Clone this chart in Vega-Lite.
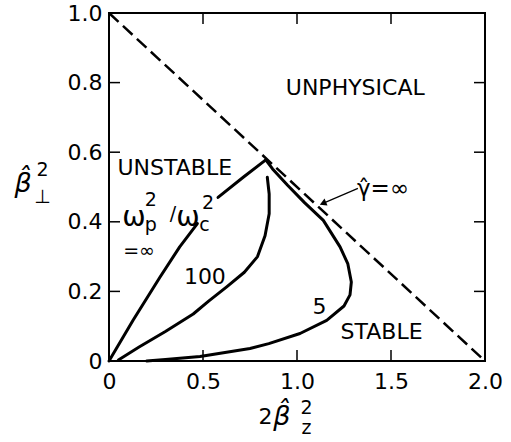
{
  "$schema": "https://vega.github.io/schema/vega-lite/v6.json",
  "width": 376,
  "height": 348,
  "autosize": "none",
  "padding": {"left": 109, "top": 13, "right": 26, "bottom": 81},
  "background": "white",
  "config": {
    "font": "DejaVu Sans",
    "view": {"stroke": "black", "strokeWidth": 2},
    "axis": {
      "grid": false,
      "domain": false,
      "ticks": false,
      "title": null,
      "labelFont": "DejaVu Sans",
      "labelFontSize": 22,
      "labelColor": "black",
      "labelFlush": false
    },
    "text": {"font": "DejaVu Sans", "color": "black"}
  },
  "datasets": {
    "boundary": [
      {"x": 0, "y": 1},
      {"x": 2, "y": 0}
    ],
    "xticks": [
      {"x": 0.5, "y": 0}, {"x": 1.0, "y": 0}, {"x": 1.5, "y": 0},
      {"x": 0.5, "y": 1}, {"x": 1.0, "y": 1}, {"x": 1.5, "y": 1}
    ],
    "yticks": [
      {"x": 0, "y": 0.2}, {"x": 0, "y": 0.4}, {"x": 0, "y": 0.6}, {"x": 0, "y": 0.8},
      {"x": 2, "y": 0.2}, {"x": 2, "y": 0.4}, {"x": 2, "y": 0.6}, {"x": 2, "y": 0.8}
    ],
    "curves": [
      {"curve": "inf_a", "ord": 0, "x": 0.0, "y": 0.0},
      {"curve": "inf_a", "ord": 1, "x": 0.128, "y": 0.117},
      {"curve": "inf_a", "ord": 2, "x": 0.27, "y": 0.24},
      {"curve": "inf_a", "ord": 3, "x": 0.376, "y": 0.328},
      {"curve": "inf_a", "ord": 4, "x": 0.47, "y": 0.395},
      {"curve": "inf_b", "ord": 0, "x": 0.58, "y": 0.47},
      {"curve": "inf_b", "ord": 1, "x": 0.714, "y": 0.528},
      {"curve": "inf_b", "ord": 2, "x": 0.834, "y": 0.578},
      {"curve": "5", "ord": 0, "x": 0.834, "y": 0.578},
      {"curve": "5", "ord": 1, "x": 0.87, "y": 0.552},
      {"curve": "5", "ord": 2, "x": 0.95, "y": 0.505},
      {"curve": "5", "ord": 3, "x": 1.04, "y": 0.455},
      {"curve": "5", "ord": 4, "x": 1.14, "y": 0.404},
      {"curve": "5", "ord": 5, "x": 1.229, "y": 0.328},
      {"curve": "5", "ord": 6, "x": 1.27, "y": 0.28},
      {"curve": "5", "ord": 7, "x": 1.289, "y": 0.227},
      {"curve": "5", "ord": 8, "x": 1.282, "y": 0.19},
      {"curve": "5", "ord": 9, "x": 1.25, "y": 0.158},
      {"curve": "5", "ord": 10, "x": 1.158, "y": 0.117},
      {"curve": "5", "ord": 11, "x": 1.016, "y": 0.079},
      {"curve": "5", "ord": 12, "x": 0.85, "y": 0.05},
      {"curve": "5", "ord": 13, "x": 0.75, "y": 0.036},
      {"curve": "5", "ord": 14, "x": 0.484, "y": 0.013},
      {"curve": "5", "ord": 15, "x": 0.3, "y": 0.004},
      {"curve": "5", "ord": 16, "x": 0.2, "y": 0.0},
      {"curve": "100", "ord": 0, "x": 0.842, "y": 0.528},
      {"curve": "100", "ord": 1, "x": 0.852, "y": 0.48},
      {"curve": "100", "ord": 2, "x": 0.852, "y": 0.423},
      {"curve": "100", "ord": 3, "x": 0.83, "y": 0.36},
      {"curve": "100", "ord": 4, "x": 0.79, "y": 0.3},
      {"curve": "100", "ord": 5, "x": 0.72, "y": 0.255},
      {"curve": "100", "ord": 6, "x": 0.626, "y": 0.213},
      {"curve": "100", "ord": 7, "x": 0.53, "y": 0.172},
      {"curve": "100", "ord": 8, "x": 0.448, "y": 0.135},
      {"curve": "100", "ord": 9, "x": 0.3, "y": 0.085},
      {"curve": "100", "ord": 10, "x": 0.16, "y": 0.04},
      {"curve": "100", "ord": 11, "x": 0.05, "y": 0.003}
    ],
    "notes": [
      {"kind": "main", "x": 1.31, "y": 0.785, "text": "UNPHYSICAL"},
      {"kind": "main", "x": 0.35, "y": 0.556, "text": "UNSTABLE"},
      {"kind": "main", "x": 1.45, "y": 0.083, "text": "STABLE"},
      {"kind": "main", "x": 0.51, "y": 0.24, "text": "100"},
      {"kind": "main", "x": 1.12, "y": 0.155, "text": "5"},
      {"kind": "main", "x": 0.832, "y": -0.162, "text": "2"},
      {"kind": "greek", "x": -0.457, "y": 0.51, "text": "β̂"},
      {"kind": "greek", "x": 0.92, "y": -0.162, "text": "β̂"},
      {"kind": "omega", "x": 0.133, "y": 0.41, "text": "ω"},
      {"kind": "omega", "x": 0.42, "y": 0.41, "text": "ω"},
      {"kind": "small", "x": -0.354, "y": 0.55, "text": "2"},
      {"kind": "small", "x": -0.354, "y": 0.47, "text": "⊥"},
      {"kind": "small", "x": 1.051, "y": -0.135, "text": "2"},
      {"kind": "small", "x": 1.051, "y": -0.192, "text": "z"},
      {"kind": "small", "x": 0.222, "y": 0.463, "text": "2"},
      {"kind": "small", "x": 0.222, "y": 0.39, "text": "p"},
      {"kind": "small", "x": 0.34, "y": 0.422, "text": "/"},
      {"kind": "small", "x": 0.527, "y": 0.455, "text": "2"},
      {"kind": "small", "x": 0.508, "y": 0.39, "text": "c"},
      {"kind": "small", "x": 0.16, "y": 0.317, "text": "=∞"},
      {"kind": "gamma", "x": 1.319, "y": 0.493, "text": "γ̂=∞"}
    ],
    "arrow": [
      {"x": 1.324, "y": 0.496, "x2": 1.138, "y2": 0.453}
    ]
  },
  "layer": [
    {
      "data": {"name": "boundary"},
      "mark": {"type": "line", "color": "black", "strokeWidth": 2.5, "strokeDash": [13, 6]},
      "encoding": {
        "x": {
          "field": "x", "type": "quantitative",
          "scale": {"domain": [0, 2], "nice": false, "zero": false},
          "axis": {
            "orient": "bottom",
            "values": [0, 0.5, 1, 1.5, 2],
            "labelExpr": "datum.value == 0 ? '0' : format(datum.value, '.1f')",
            "labelPadding": 10
          }
        },
        "y": {
          "field": "y", "type": "quantitative",
          "scale": {"domain": [0, 1], "nice": false, "zero": false},
          "axis": {
            "orient": "left",
            "values": [0, 0.2, 0.4, 0.6, 0.8, 1.0],
            "labelExpr": "datum.value == 0 ? '0' : format(datum.value, '.1f')",
            "labelPadding": 7
          }
        }
      }
    },
    {
      "data": {"name": "xticks"},
      "mark": {"type": "tick", "orient": "vertical", "size": 22, "thickness": 1.5, "color": "black", "opacity": 1, "clip": true},
      "encoding": {
        "x": {"field": "x", "type": "quantitative"},
        "y": {"field": "y", "type": "quantitative"}
      }
    },
    {
      "data": {"name": "yticks"},
      "mark": {"type": "tick", "orient": "horizontal", "size": 22, "thickness": 1.5, "color": "black", "opacity": 1, "clip": true},
      "encoding": {
        "x": {"field": "x", "type": "quantitative"},
        "y": {"field": "y", "type": "quantitative"}
      }
    },
    {
      "data": {"name": "curves"},
      "mark": {"type": "line", "color": "black", "strokeWidth": 3, "strokeCap": "round", "strokeJoin": "round"},
      "encoding": {
        "x": {"field": "x", "type": "quantitative"},
        "y": {"field": "y", "type": "quantitative"},
        "detail": {"field": "curve"},
        "order": {"field": "ord", "type": "quantitative"}
      }
    },
    {
      "data": {"name": "arrow"},
      "mark": {"type": "rule", "color": "black", "strokeWidth": 1.2},
      "encoding": {
        "x": {"field": "x", "type": "quantitative"},
        "y": {"field": "y", "type": "quantitative"},
        "x2": {"field": "x2"},
        "y2": {"field": "y2"}
      }
    },
    {
      "data": {"name": "arrow"},
      "mark": {"type": "point", "shape": "triangle-left", "filled": true, "color": "black", "size": 60, "angle": 337, "opacity": 1},
      "encoding": {
        "x": {"field": "x2", "type": "quantitative"},
        "y": {"field": "y2", "type": "quantitative"}
      }
    },
    {
      "data": {"name": "notes"},
      "transform": [{"filter": "datum.kind == 'main'"}],
      "mark": {"type": "text", "fontSize": 22, "align": "center", "baseline": "middle"},
      "encoding": {
        "x": {"field": "x", "type": "quantitative"},
        "y": {"field": "y", "type": "quantitative"},
        "text": {"field": "text"}
      }
    },
    {
      "data": {"name": "notes"},
      "transform": [{"filter": "datum.kind == 'greek'"}],
      "mark": {"type": "text", "fontSize": 27, "fontStyle": "italic", "align": "center", "baseline": "middle"},
      "encoding": {
        "x": {"field": "x", "type": "quantitative"},
        "y": {"field": "y", "type": "quantitative"},
        "text": {"field": "text"}
      }
    },
    {
      "data": {"name": "notes"},
      "transform": [{"filter": "datum.kind == 'omega'"}],
      "mark": {"type": "text", "fontSize": 28, "align": "center", "baseline": "middle"},
      "encoding": {
        "x": {"field": "x", "type": "quantitative"},
        "y": {"field": "y", "type": "quantitative"},
        "text": {"field": "text"}
      }
    },
    {
      "data": {"name": "notes"},
      "transform": [{"filter": "datum.kind == 'small'"}],
      "mark": {"type": "text", "fontSize": 19, "align": "center", "baseline": "middle"},
      "encoding": {
        "x": {"field": "x", "type": "quantitative"},
        "y": {"field": "y", "type": "quantitative"},
        "text": {"field": "text"}
      }
    },
    {
      "data": {"name": "notes"},
      "transform": [{"filter": "datum.kind == 'gamma'"}],
      "mark": {"type": "text", "fontSize": 23, "align": "left", "baseline": "middle"},
      "encoding": {
        "x": {"field": "x", "type": "quantitative"},
        "y": {"field": "y", "type": "quantitative"},
        "text": {"field": "text"}
      }
    }
  ]
}
